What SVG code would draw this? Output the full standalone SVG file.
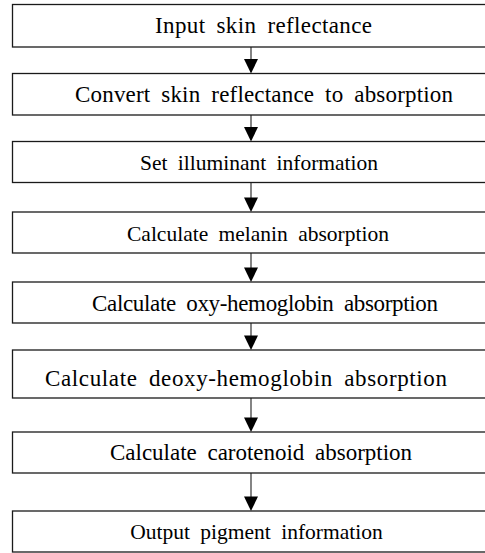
<svg xmlns="http://www.w3.org/2000/svg" width="485" height="553" viewBox="0 0 485 553">
<defs>
<style>
.box{fill:#fff;stroke:#1a1a1a;stroke-width:1.3}
.lbl{font-family:"Liberation Serif","Times New Roman",serif;font-size:23px;fill:#000;text-anchor:middle;word-spacing:5px}
.sm{font-size:21.5px;word-spacing:5px}
.conn{stroke:#333;stroke-width:1.2;fill:none}
.ah{fill:#000}
</style>
</defs>
<rect width="485" height="553" fill="#fff"/>
<g id="connectors">
<line class="conn" x1="251" y1="47" x2="251" y2="60"/>
<path class="ah" d="M244,59 L258,59 L251,73.5 Z"/>
<line class="conn" x1="251" y1="115" x2="251" y2="128"/>
<path class="ah" d="M244,127 L258,127 L251,141.5 Z"/>
<line class="conn" x1="251" y1="182.5" x2="251" y2="198.5"/>
<path class="ah" d="M244,197.5 L258,197.5 L251,212 Z"/>
<line class="conn" x1="251" y1="253" x2="251" y2="268.5"/>
<path class="ah" d="M244,267.5 L258,267.5 L251,282 Z"/>
<line class="conn" x1="251" y1="323" x2="251" y2="336.5"/>
<path class="ah" d="M244,335.5 L258,335.5 L251,350 Z"/>
<line class="conn" x1="251" y1="398" x2="251" y2="418.5"/>
<path class="ah" d="M244,417.5 L258,417.5 L251,432 Z"/>
<line class="conn" x1="251" y1="473" x2="251" y2="497.5"/>
<path class="ah" d="M244,496.5 L258,496.5 L251,511 Z"/>
</g>
<g id="n1"><rect class="box" x="12.5" y="4.5" width="480" height="42.5"/><text class="lbl" x="263.5" y="33" textLength="217" lengthAdjust="spacing">Input skin reflectance</text></g>
<g id="n2"><rect class="box" x="12.5" y="73.5" width="480" height="41.5"/><text class="lbl" x="264" y="102" textLength="378" lengthAdjust="spacing">Convert skin reflectance to absorption</text></g>
<g id="n3"><rect class="box" x="12.5" y="141.5" width="480" height="41"/><text class="lbl sm" x="259" y="170">Set illuminant information</text></g>
<g id="n4"><rect class="box" x="12.5" y="212" width="480" height="41"/><text class="lbl sm" x="258" y="241">Calculate melanin absorption</text></g>
<g id="n5"><rect class="box" x="12.5" y="282" width="480" height="41"/><text class="lbl" x="265" y="310.5" textLength="346" lengthAdjust="spacing">Calculate oxy-hemoglobin absorption</text></g>
<g id="n6"><rect class="box" x="12.5" y="350" width="480" height="48"/><text class="lbl" x="246" y="385.5" textLength="402" lengthAdjust="spacing">Calculate deoxy-hemoglobin absorption</text></g>
<g id="n7"><rect class="box" x="12.5" y="432" width="480" height="41"/><text class="lbl" x="261" y="460" textLength="302" lengthAdjust="spacing">Calculate carotenoid absorption</text></g>
<g id="n8"><rect class="box" x="12.5" y="511" width="480" height="41"/><text class="lbl sm" x="256.5" y="539">Output pigment information</text></g>
</svg>
